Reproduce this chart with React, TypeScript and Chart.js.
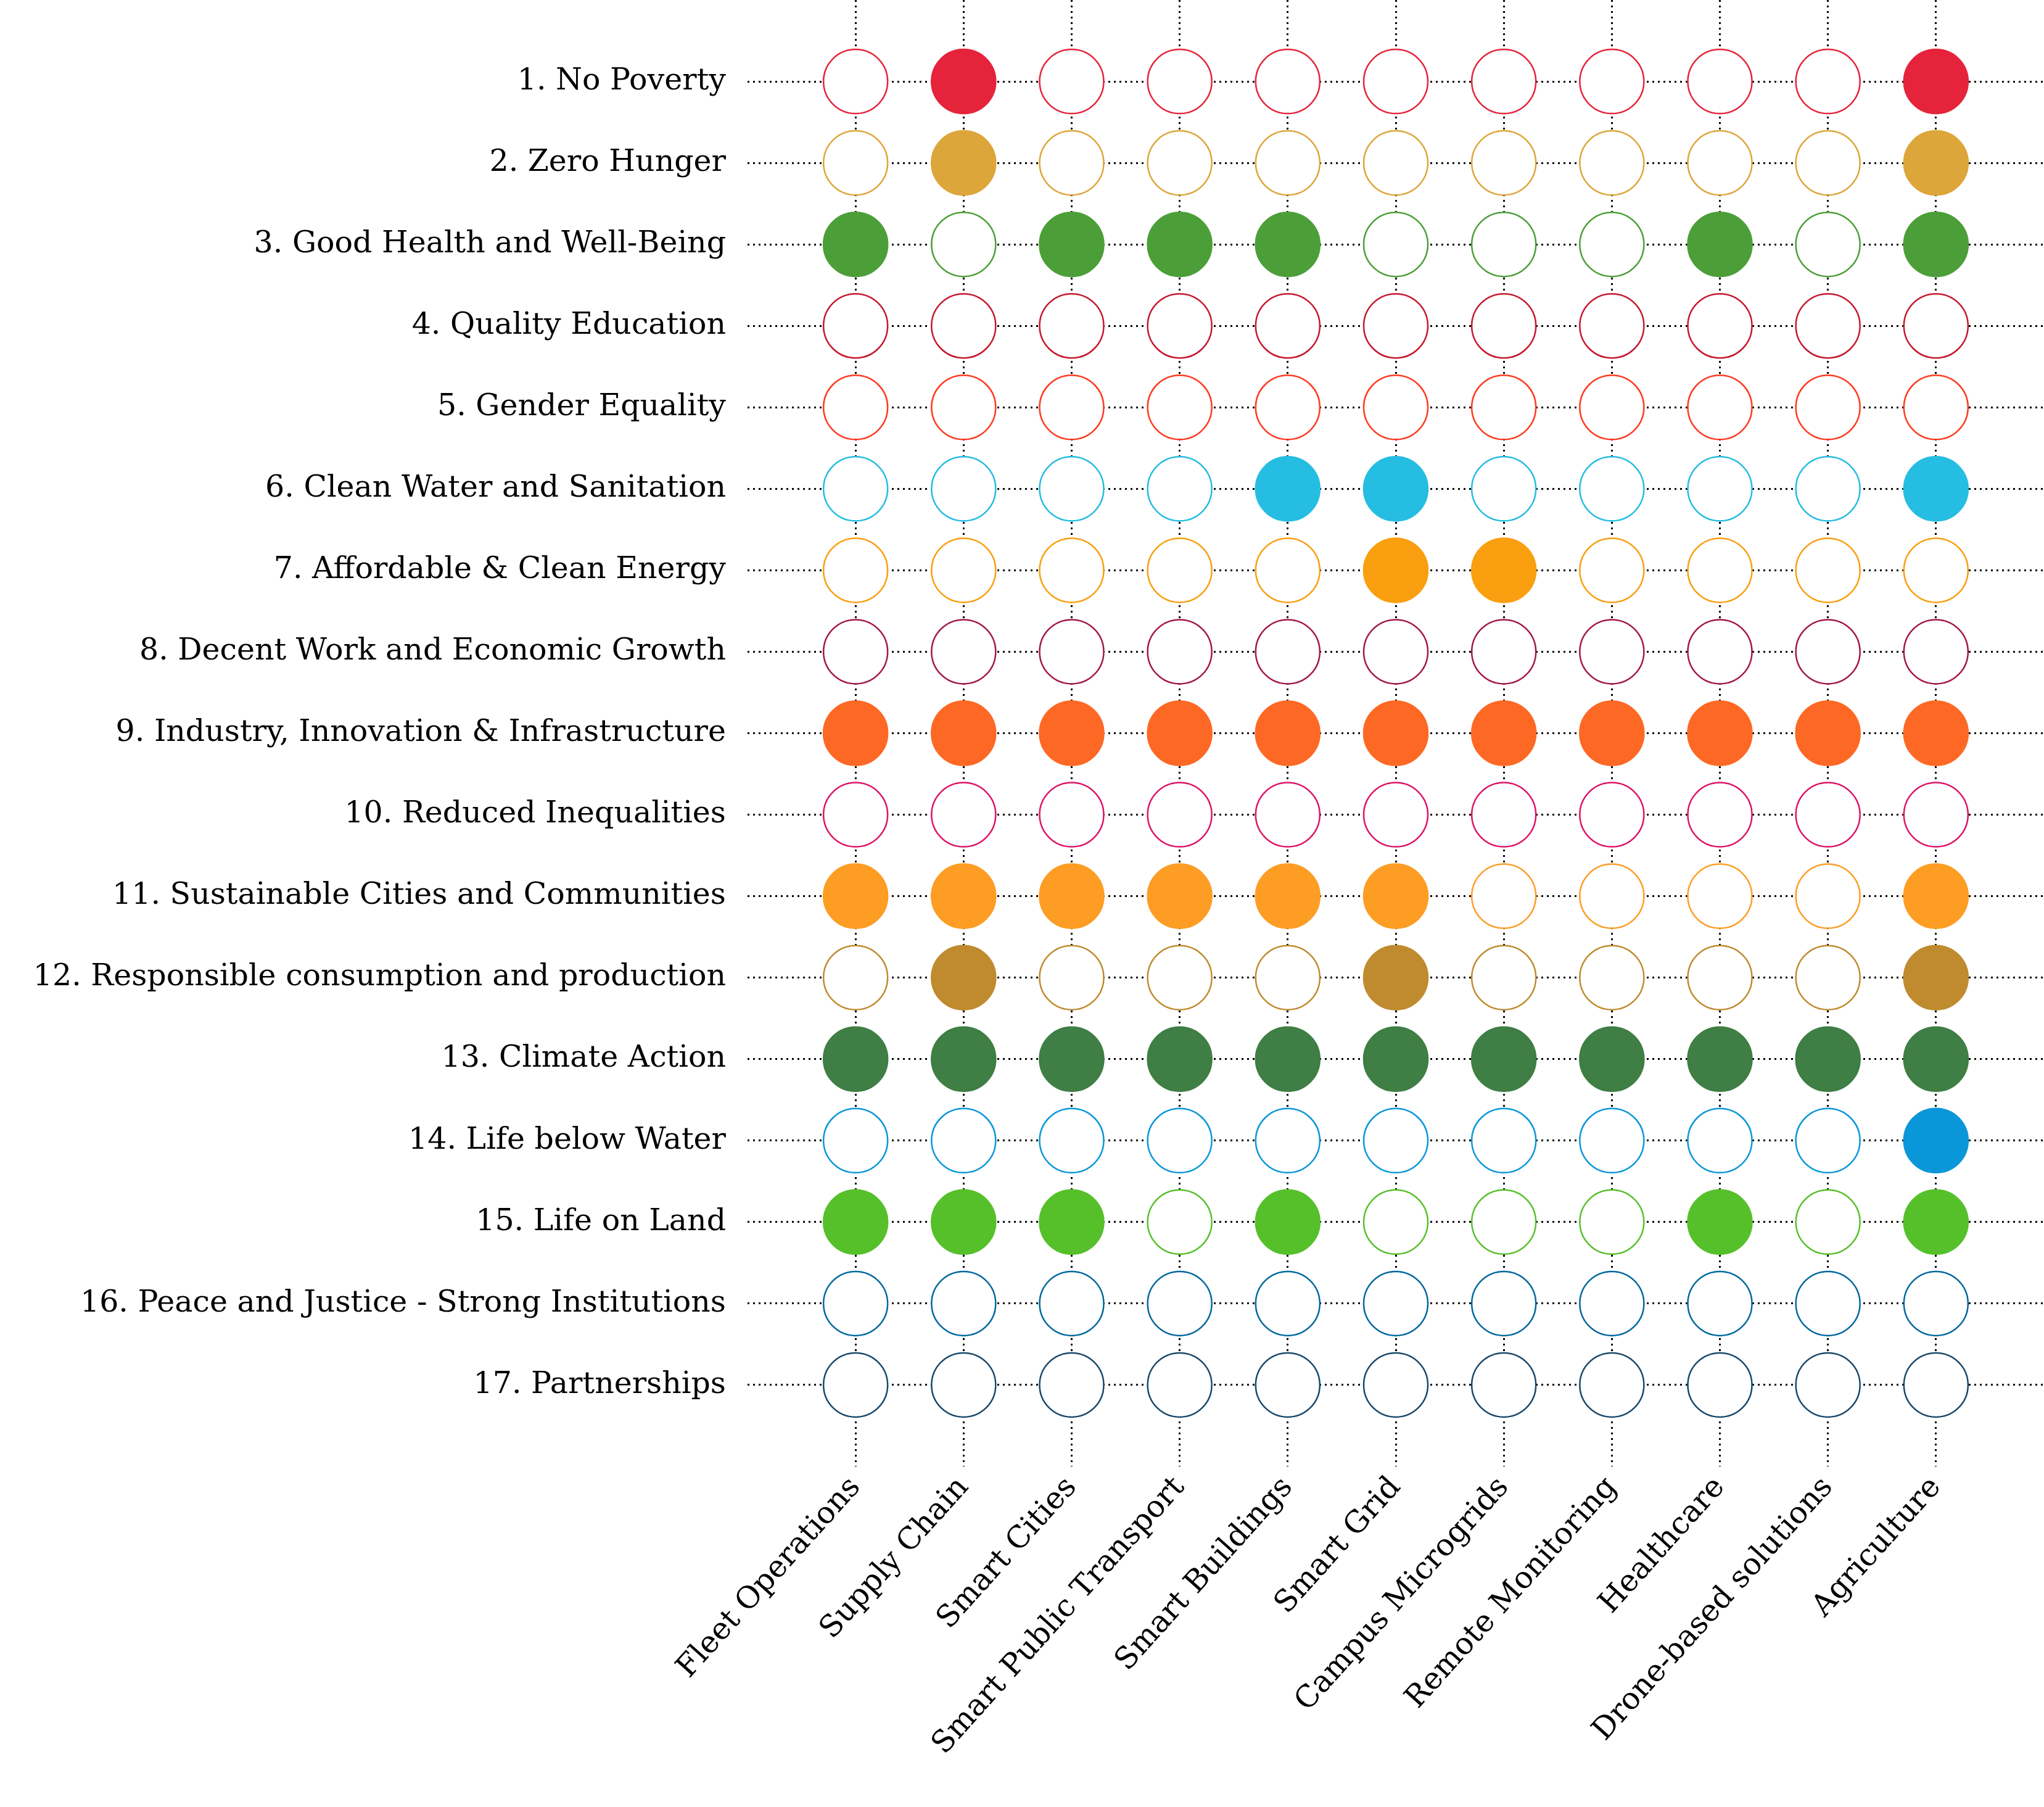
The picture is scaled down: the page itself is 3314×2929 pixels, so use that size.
import React, { useEffect, useRef } from 'react';
import { Chart, registerables } from 'chart.js';

Chart.register(...registerables);

const goals = [
  '1. No Poverty',
  '2. Zero Hunger',
  '3. Good Health and Well-Being',
  '4. Quality Education',
  '5. Gender Equality',
  '6. Clean Water and Sanitation',
  '7. Affordable & Clean Energy',
  '8. Decent Work and Economic Growth',
  '9. Industry, Innovation & Infrastructure',
  '10. Reduced Inequalities',
  '11. Sustainable Cities and Communities',
  '12. Responsible consumption and production',
  '13. Climate Action',
  '14. Life below Water',
  '15. Life on Land',
  '16. Peace and Justice - Strong Institutions',
  '17. Partnerships',
];

const solutions = [
  'Fleet Operations',
  'Supply Chain',
  'Smart Cities',
  'Smart Public Transport',
  'Smart Buildings',
  'Smart Grid',
  'Campus Microgrids',
  'Remote Monitoring',
  'Healthcare',
  'Drone-based solutions',
  'Agriculture',
];

const goalColors = [
  '#E5243B',
  '#DDA63A',
  '#4C9F38',
  '#C5192D',
  '#FF3A21',
  '#26BDE2',
  '#FA9F10',
  '#A21942',
  '#FD6925',
  '#DD1367',
  '#FD9D24',
  '#BF8B2E',
  '#3F7E44',
  '#0A97D9',
  '#56C02B',
  '#00689D',
  '#19486A',
];

// 1 = solution contributes to goal (filled), 0 = no (hollow)
const contributions: number[][] = [
  [0, 1, 0, 0, 0, 0, 0, 0, 0, 0, 1],
  [0, 1, 0, 0, 0, 0, 0, 0, 0, 0, 1],
  [1, 0, 1, 1, 1, 0, 0, 0, 1, 0, 1],
  [0, 0, 0, 0, 0, 0, 0, 0, 0, 0, 0],
  [0, 0, 0, 0, 0, 0, 0, 0, 0, 0, 0],
  [0, 0, 0, 0, 1, 1, 0, 0, 0, 0, 1],
  [0, 0, 0, 0, 0, 1, 1, 0, 0, 0, 0],
  [0, 0, 0, 0, 0, 0, 0, 0, 0, 0, 0],
  [1, 1, 1, 1, 1, 1, 1, 1, 1, 1, 1],
  [0, 0, 0, 0, 0, 0, 0, 0, 0, 0, 0],
  [1, 1, 1, 1, 1, 1, 0, 0, 0, 0, 1],
  [0, 1, 0, 0, 0, 1, 0, 0, 0, 0, 1],
  [1, 1, 1, 1, 1, 1, 1, 1, 1, 1, 1],
  [0, 0, 0, 0, 0, 0, 0, 0, 0, 0, 1],
  [1, 1, 1, 0, 1, 0, 0, 0, 1, 0, 1],
  [0, 0, 0, 0, 0, 0, 0, 0, 0, 0, 0],
  [0, 0, 0, 0, 0, 0, 0, 0, 0, 0, 0],
];

const FONT = '"DejaVu Serif", "Liberation Serif", serif';

export default function App() {
  const ref = useRef<HTMLCanvasElement>(null);

  useEffect(() => {
    document.body.style.margin = '0';
    const canvas = ref.current;
    if (!canvas) return;

    const datasets = goals.map((g, r) => ({
      label: g,
      data: solutions.map((_, c) => ({ x: c, y: r })),
      pointRadius: 52,
      pointHoverRadius: 52,
      pointBorderWidth: 2.5,
      pointHoverBorderWidth: 2.5,
      pointBackgroundColor: contributions[r].map((v) => (v ? goalColors[r] : '#ffffff')),
      pointBorderColor: goalColors[r],
      showLine: false,
    }));

    const gridColor = (n: number) => (ctx: any) =>
      ctx.tick && ctx.tick.value >= 0 && ctx.tick.value < n ? '#000000' : 'rgba(0,0,0,0)';

    const chart = new Chart(canvas, {
      type: 'scatter',
      data: { datasets },
      options: {
        animation: false,
        responsive: false,
        maintainAspectRatio: false,
        events: [],
        layout: { padding: 0, autoPadding: false },
        plugins: {
          legend: { display: false },
          tooltip: { enabled: false },
        },
        scales: {
          x: {
            type: 'linear',
            position: 'bottom',
            min: -1,
            max: solutions.length,
            afterBuildTicks: (axis: any) => {
              axis.ticks = [];
              for (let v = -1; v <= solutions.length; v++) axis.ticks.push({ value: v });
            },
            afterFit: (axis: any) => {
              axis.height = 552;
              axis.paddingLeft = 0;
              axis.paddingRight = 0;
            },
            ticks: {
              autoSkip: false,
              minRotation: 48,
              maxRotation: 48,
              padding: 6,
              color: '#000000',
              font: { family: FONT, size: 49 },
              callback: (v: any) => solutions[v] ?? '',
            },
            grid: {
              drawTicks: false,
              lineWidth: 3,
              color: gridColor(solutions.length),
              borderDash: [3, 6],
            } as any,
            border: { display: false, dash: [3, 6] },
          },
          y: {
            type: 'linear',
            reverse: true,
            min: -1,
            max: goals.length,
            afterBuildTicks: (axis: any) => {
              axis.ticks = [];
              for (let v = -1; v <= goals.length; v++) axis.ticks.push({ value: v });
            },
            afterFit: (axis: any) => {
              axis.width = 1212;
              axis.paddingTop = 0;
              axis.paddingBottom = 0;
            },
            ticks: {
              autoSkip: false,
              padding: 35,
              color: '#000000',
              font: { family: FONT, size: 49 },
              callback: (v: any) => goals[v] ?? '',
            },
            grid: {
              drawTicks: false,
              lineWidth: 3,
              color: gridColor(goals.length),
              borderDash: [3, 6],
            } as any,
            border: { display: false, dash: [3, 6] },
          },
        },
      },
    } as any);

    return () => chart.destroy();
  }, []);

  return (
    <div style={{ width: 3314, height: 2929 }}>
      <canvas ref={ref} width={3314} height={2929} style={{ display: 'block' }} />
    </div>
  );
}
